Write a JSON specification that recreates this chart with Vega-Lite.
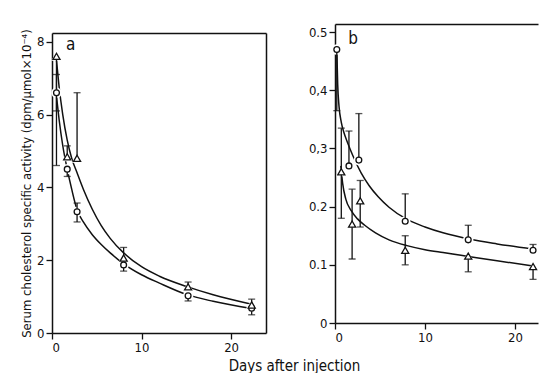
{
  "$schema": "https://vega.github.io/schema/vega-lite/v6.json",
  "background": "white",
  "padding": {"left": 20, "top": 24, "right": 0, "bottom": 0},
  "bounds": "flush",
  "spacing": 69,
  "config": {
    "view": {"stroke": null},
    "font": "DejaVu Sans Condensed",
    "axis": {
      "grid": false,
      "domainColor": "#111",
      "domainWidth": 1.5,
      "tickColor": "#111",
      "tickWidth": 1.3,
      "tickSize": 6,
      "labelFont": "DejaVu Sans Condensed",
      "labelFontSize": 13,
      "labelColor": "#111",
      "labelPadding": 2,
      "titleFont": "DejaVu Sans Condensed",
      "titleFontSize": 13,
      "titleFontWeight": "normal",
      "titleColor": "#111"
    }
  },
  "datasets": {
    "curves": [
      {"panel": "a", "series": "t", "day": 0.5, "value": 7.5},
      {"panel": "a", "series": "t", "day": 0.8, "value": 6.75},
      {"panel": "a", "series": "t", "day": 1.2, "value": 6.0},
      {"panel": "a", "series": "t", "day": 1.7, "value": 5.3},
      {"panel": "a", "series": "t", "day": 2.2, "value": 4.8},
      {"panel": "a", "series": "t", "day": 2.8, "value": 4.4},
      {"panel": "a", "series": "t", "day": 3.5, "value": 3.95},
      {"panel": "a", "series": "t", "day": 4.5, "value": 3.4},
      {"panel": "a", "series": "t", "day": 5.5, "value": 2.95},
      {"panel": "a", "series": "t", "day": 6.5, "value": 2.6},
      {"panel": "a", "series": "t", "day": 8, "value": 2.2},
      {"panel": "a", "series": "t", "day": 10, "value": 1.82},
      {"panel": "a", "series": "t", "day": 12, "value": 1.56},
      {"panel": "a", "series": "t", "day": 15, "value": 1.28},
      {"panel": "a", "series": "t", "day": 18, "value": 1.05},
      {"panel": "a", "series": "t", "day": 22.3, "value": 0.79},
      {"panel": "a", "series": "c", "day": 0.5, "value": 6.5},
      {"panel": "a", "series": "c", "day": 0.8, "value": 5.85},
      {"panel": "a", "series": "c", "day": 1.2, "value": 5.15},
      {"panel": "a", "series": "c", "day": 1.7, "value": 4.5},
      {"panel": "a", "series": "c", "day": 2.2, "value": 3.95},
      {"panel": "a", "series": "c", "day": 2.8, "value": 3.38},
      {"panel": "a", "series": "c", "day": 3.5, "value": 3.05},
      {"panel": "a", "series": "c", "day": 4.5, "value": 2.7},
      {"panel": "a", "series": "c", "day": 5.5, "value": 2.43},
      {"panel": "a", "series": "c", "day": 6.5, "value": 2.2},
      {"panel": "a", "series": "c", "day": 8, "value": 1.9},
      {"panel": "a", "series": "c", "day": 10, "value": 1.6},
      {"panel": "a", "series": "c", "day": 12, "value": 1.37},
      {"panel": "a", "series": "c", "day": 15, "value": 1.06},
      {"panel": "a", "series": "c", "day": 18, "value": 0.87},
      {"panel": "a", "series": "c", "day": 22.3, "value": 0.67},
      {"panel": "b", "series": "c", "day": 0.2, "value": 0.47},
      {"panel": "b", "series": "c", "day": 0.3, "value": 0.41},
      {"panel": "b", "series": "c", "day": 0.45, "value": 0.372},
      {"panel": "b", "series": "c", "day": 0.7, "value": 0.345},
      {"panel": "b", "series": "c", "day": 1.0, "value": 0.327},
      {"panel": "b", "series": "c", "day": 1.4, "value": 0.31},
      {"panel": "b", "series": "c", "day": 2.0, "value": 0.287},
      {"panel": "b", "series": "c", "day": 2.9, "value": 0.258},
      {"panel": "b", "series": "c", "day": 3.8, "value": 0.236},
      {"panel": "b", "series": "c", "day": 4.8, "value": 0.217},
      {"panel": "b", "series": "c", "day": 6, "value": 0.199},
      {"panel": "b", "series": "c", "day": 8, "value": 0.178},
      {"panel": "b", "series": "c", "day": 10, "value": 0.165},
      {"panel": "b", "series": "c", "day": 12, "value": 0.155},
      {"panel": "b", "series": "c", "day": 15, "value": 0.144},
      {"panel": "b", "series": "c", "day": 18, "value": 0.136},
      {"panel": "b", "series": "c", "day": 22, "value": 0.127},
      {"panel": "b", "series": "t", "day": 0.65, "value": 0.27},
      {"panel": "b", "series": "t", "day": 0.85, "value": 0.24},
      {"panel": "b", "series": "t", "day": 1.2, "value": 0.213},
      {"panel": "b", "series": "t", "day": 1.8, "value": 0.193},
      {"panel": "b", "series": "t", "day": 2.5, "value": 0.179},
      {"panel": "b", "series": "t", "day": 3.3, "value": 0.168},
      {"panel": "b", "series": "t", "day": 4.5, "value": 0.155},
      {"panel": "b", "series": "t", "day": 6, "value": 0.143},
      {"panel": "b", "series": "t", "day": 8, "value": 0.133},
      {"panel": "b", "series": "t", "day": 10, "value": 0.126},
      {"panel": "b", "series": "t", "day": 12, "value": 0.121},
      {"panel": "b", "series": "t", "day": 15, "value": 0.114},
      {"panel": "b", "series": "t", "day": 18, "value": 0.107},
      {"panel": "b", "series": "t", "day": 22, "value": 0.098}
    ],
    "points": [
      {"panel": "a", "series": "c", "day": 0.5, "value": 6.6, "lo": 6.1, "hi": 7.1},
      {"panel": "a", "series": "c", "day": 1.7, "value": 4.5, "lo": 4.3, "hi": 4.5},
      {"panel": "a", "series": "c", "day": 2.8, "value": 3.33, "lo": 3.05, "hi": 3.57},
      {"panel": "a", "series": "c", "day": 8.0, "value": 1.87, "lo": 1.7, "hi": 1.87},
      {"panel": "a", "series": "c", "day": 15.2, "value": 1.02, "lo": 0.88, "hi": 1.02},
      {"panel": "a", "series": "c", "day": 22.3, "value": 0.68, "lo": 0.5, "hi": 0.68},
      {"panel": "a", "series": "t", "day": 0.5, "value": 7.6, "lo": 4.6, "hi": 7.6},
      {"panel": "a", "series": "t", "day": 1.7, "value": 4.84, "lo": 4.84, "hi": 5.14},
      {"panel": "a", "series": "t", "day": 2.8, "value": 4.8, "lo": 4.8, "hi": 6.6},
      {"panel": "a", "series": "t", "day": 8.0, "value": 2.06, "lo": 2.06, "hi": 2.35},
      {"panel": "a", "series": "t", "day": 15.2, "value": 1.27, "lo": 1.27, "hi": 1.4},
      {"panel": "a", "series": "t", "day": 22.3, "value": 0.77, "lo": 0.77, "hi": 0.93},
      {"panel": "b", "series": "c", "day": 0.2, "value": 0.47, "lo": 0.365, "hi": 0.47},
      {"panel": "b", "series": "c", "day": 1.55, "value": 0.27, "lo": 0.27, "hi": 0.33},
      {"panel": "b", "series": "c", "day": 2.65, "value": 0.28, "lo": 0.28, "hi": 0.36},
      {"panel": "b", "series": "c", "day": 7.8, "value": 0.175, "lo": 0.175, "hi": 0.222},
      {"panel": "b", "series": "c", "day": 14.8, "value": 0.143, "lo": 0.143, "hi": 0.168},
      {"panel": "b", "series": "c", "day": 22, "value": 0.125, "lo": 0.125, "hi": 0.135},
      {"panel": "b", "series": "t", "day": 0.7, "value": 0.26, "lo": 0.18, "hi": 0.335},
      {"panel": "b", "series": "t", "day": 1.9, "value": 0.17, "lo": 0.11, "hi": 0.23},
      {"panel": "b", "series": "t", "day": 2.8, "value": 0.21, "lo": 0.165, "hi": 0.245},
      {"panel": "b", "series": "t", "day": 7.8, "value": 0.125, "lo": 0.1, "hi": 0.15},
      {"panel": "b", "series": "t", "day": 14.8, "value": 0.115, "lo": 0.088, "hi": 0.115},
      {"panel": "b", "series": "t", "day": 22, "value": 0.097, "lo": 0.075, "hi": 0.097}
    ],
    "labels": [
      {"panel": "a", "label": "a", "day": 2.1, "value": 7.9},
      {"panel": "b", "label": "b", "day": 2.0, "value": 0.488}
    ]
  },
  "hconcat": [
    {
      "width": 214,
      "height": 309,
      "resolve": {"axis": {"x": "independent", "y": "independent"}},
      "layer": [
        {
          "data": {"name": "curves"},
          "transform": [{"filter": "datum.panel == 'a'"}],
          "mark": {"type": "line", "interpolate": "monotone", "color": "#111", "strokeWidth": 1.5},
          "encoding": {
            "x": {"field": "day", "type": "quantitative", "scale": {"domain": [0, 23.9], "nice": false},
                  "axis": {"values": [0, 10, 20], "title": "Days after injection", "titleX": 242, "titlePadding": 4, "titleFontSize": 15}},
            "y": {"field": "value", "type": "quantitative", "scale": {"domain": [0, 8.24], "nice": false, "range": [309, 9]},
                  "axis": {"values": [0, 2, 4, 6, 8], "title": "Serum cholesterol specific activity (dpm/μmol×10⁻⁴)", "titlePadding": 3}},
            "detail": {"field": "series"}
          }
        },
        {
          "data": {"name": "points"},
          "transform": [{"filter": "datum.panel == 'a'"}],
          "mark": {"type": "point", "filled": true, "color": "white", "opacity": 1, "size": 110},
          "encoding": {
            "x": {"field": "day", "type": "quantitative", "scale": {"domain": [0, 23.9], "nice": false}, "axis": null},
            "y": {"field": "value", "type": "quantitative", "scale": {"domain": [0, 8.24], "nice": false, "range": [309, 9]}, "axis": null},
            "shape": {"field": "series", "type": "nominal", "scale": {"domain": ["c", "t"], "range": ["circle", "triangle-up"]}, "legend": null}
          }
        },
        {
          "data": {"name": "points"},
          "transform": [{"filter": "datum.panel == 'a'"}],
          "mark": {"type": "rule", "color": "#111", "strokeWidth": 1.3},
          "encoding": {
            "x": {"field": "day", "type": "quantitative", "scale": {"domain": [0, 23.9], "nice": false}, "axis": null},
            "y": {"field": "lo", "type": "quantitative", "scale": {"domain": [0, 8.24], "nice": false, "range": [309, 9]}, "axis": null},
            "y2": {"field": "hi"}
          }
        },
        {
          "data": {"name": "points"},
          "transform": [{"filter": "datum.panel == 'a' && datum.hi > datum.value"}],
          "mark": {"type": "tick", "orient": "horizontal", "color": "#111", "size": 7, "thickness": 1.3},
          "encoding": {
            "x": {"field": "day", "type": "quantitative", "scale": {"domain": [0, 23.9], "nice": false}, "axis": null},
            "y": {"field": "hi", "type": "quantitative", "scale": {"domain": [0, 8.24], "nice": false, "range": [309, 9]}, "axis": null}
          }
        },
        {
          "data": {"name": "points"},
          "transform": [{"filter": "datum.panel == 'a' && datum.lo < datum.value"}],
          "mark": {"type": "tick", "orient": "horizontal", "color": "#111", "size": 7, "thickness": 1.3},
          "encoding": {
            "x": {"field": "day", "type": "quantitative", "scale": {"domain": [0, 23.9], "nice": false}, "axis": null},
            "y": {"field": "lo", "type": "quantitative", "scale": {"domain": [0, 8.24], "nice": false, "range": [309, 9]}, "axis": null}
          }
        },
        {
          "data": {"name": "points"},
          "transform": [{"filter": "datum.panel == 'a'"}],
          "mark": {"type": "point", "filled": false, "stroke": "#111", "fill": "white", "fillOpacity": 1, "strokeWidth": 1.3, "opacity": 1},
          "encoding": {
            "x": {"field": "day", "type": "quantitative", "scale": {"domain": [0, 23.9], "nice": false},
                  "axis": {"orient": "top", "offset": -9, "ticks": false, "labels": false, "title": null}},
            "y": {"field": "value", "type": "quantitative", "scale": {"domain": [0, 8.24], "nice": false, "range": [309, 9]},
                  "axis": {"orient": "right", "ticks": false, "labels": false, "title": null}},
            "shape": {"field": "series", "type": "nominal", "scale": {"domain": ["c", "t"], "range": ["circle", "triangle-up"]}, "legend": null},
            "size": {"field": "series", "type": "nominal", "scale": {"domain": ["c", "t"], "range": [34, 50]}, "legend": null}
          }
        },
        {
          "data": {"name": "labels"},
          "transform": [{"filter": "datum.panel == 'a'"}],
          "mark": {"type": "text", "fontSize": 17, "color": "#111", "align": "center", "baseline": "middle", "font": "DejaVu Sans Condensed"},
          "encoding": {
            "x": {"field": "day", "type": "quantitative", "scale": {"domain": [0, 23.9], "nice": false}, "axis": null},
            "y": {"field": "value", "type": "quantitative", "scale": {"domain": [0, 8.24], "nice": false, "range": [309, 9]}, "axis": null},
            "text": {"field": "label"}
          }
        }
      ]
    },
    {
      "width": 203,
      "height": 299,
      "resolve": {"axis": {"x": "independent", "y": "independent"}},
      "layer": [
        {
          "data": {"name": "curves"},
          "transform": [{"filter": "datum.panel == 'b'"}],
          "mark": {"type": "line", "interpolate": "monotone", "color": "#111", "strokeWidth": 1.5},
          "encoding": {
            "x": {"field": "day", "type": "quantitative", "scale": {"domain": [0, 22.55], "nice": false},
                  "axis": {"values": [0, 10, 20], "title": null}},
            "y": {"field": "value", "type": "quantitative", "scale": {"domain": [0, 0.514], "nice": false},
                  "axis": {"values": [0, 0.1, 0.2, 0.3, 0.4, 0.5], "title": null,
                           "labelExpr": "datum.value == 0 ? '0' : (datum.value > 0.25 && datum.value < 0.45 ? replace(format(datum.value, '.1f'), '.', ',') : format(datum.value, '.1f'))"}},
            "detail": {"field": "series"}
          }
        },
        {
          "data": {"name": "points"},
          "transform": [{"filter": "datum.panel == 'b'"}],
          "mark": {"type": "point", "filled": true, "color": "white", "opacity": 1, "size": 110},
          "encoding": {
            "x": {"field": "day", "type": "quantitative", "scale": {"domain": [0, 22.55], "nice": false}, "axis": null},
            "y": {"field": "value", "type": "quantitative", "scale": {"domain": [0, 0.514], "nice": false}, "axis": null},
            "shape": {"field": "series", "type": "nominal", "scale": {"domain": ["c", "t"], "range": ["circle", "triangle-up"]}, "legend": null}
          }
        },
        {
          "data": {"name": "points"},
          "transform": [{"filter": "datum.panel == 'b'"}],
          "mark": {"type": "rule", "color": "#111", "strokeWidth": 1.3},
          "encoding": {
            "x": {"field": "day", "type": "quantitative", "scale": {"domain": [0, 22.55], "nice": false}, "axis": null},
            "y": {"field": "lo", "type": "quantitative", "scale": {"domain": [0, 0.514], "nice": false}, "axis": null},
            "y2": {"field": "hi"}
          }
        },
        {
          "data": {"name": "points"},
          "transform": [{"filter": "datum.panel == 'b' && datum.hi > datum.value"}],
          "mark": {"type": "tick", "orient": "horizontal", "color": "#111", "size": 7, "thickness": 1.3},
          "encoding": {
            "x": {"field": "day", "type": "quantitative", "scale": {"domain": [0, 22.55], "nice": false}, "axis": null},
            "y": {"field": "hi", "type": "quantitative", "scale": {"domain": [0, 0.514], "nice": false}, "axis": null}
          }
        },
        {
          "data": {"name": "points"},
          "transform": [{"filter": "datum.panel == 'b' && datum.lo < datum.value"}],
          "mark": {"type": "tick", "orient": "horizontal", "color": "#111", "size": 7, "thickness": 1.3},
          "encoding": {
            "x": {"field": "day", "type": "quantitative", "scale": {"domain": [0, 22.55], "nice": false}, "axis": null},
            "y": {"field": "lo", "type": "quantitative", "scale": {"domain": [0, 0.514], "nice": false}, "axis": null}
          }
        },
        {
          "data": {"name": "points"},
          "transform": [{"filter": "datum.panel == 'b'"}],
          "mark": {"type": "point", "filled": false, "stroke": "#111", "fill": "white", "fillOpacity": 1, "strokeWidth": 1.3, "opacity": 1},
          "encoding": {
            "x": {"field": "day", "type": "quantitative", "scale": {"domain": [0, 22.55], "nice": false},
                  "axis": {"orient": "top", "ticks": false, "labels": false, "title": null}},
            "y": {"field": "value", "type": "quantitative", "scale": {"domain": [0, 0.514], "nice": false}, "axis": null},
            "shape": {"field": "series", "type": "nominal", "scale": {"domain": ["c", "t"], "range": ["circle", "triangle-up"]}, "legend": null},
            "size": {"field": "series", "type": "nominal", "scale": {"domain": ["c", "t"], "range": [34, 50]}, "legend": null}
          }
        },
        {
          "data": {"name": "labels"},
          "transform": [{"filter": "datum.panel == 'b'"}],
          "mark": {"type": "text", "fontSize": 17, "color": "#111", "align": "center", "baseline": "middle", "font": "DejaVu Sans Condensed"},
          "encoding": {
            "x": {"field": "day", "type": "quantitative", "scale": {"domain": [0, 22.55], "nice": false}, "axis": null},
            "y": {"field": "value", "type": "quantitative", "scale": {"domain": [0, 0.514], "nice": false}, "axis": null},
            "text": {"field": "label"}
          }
        }
      ]
    }
  ]
}
